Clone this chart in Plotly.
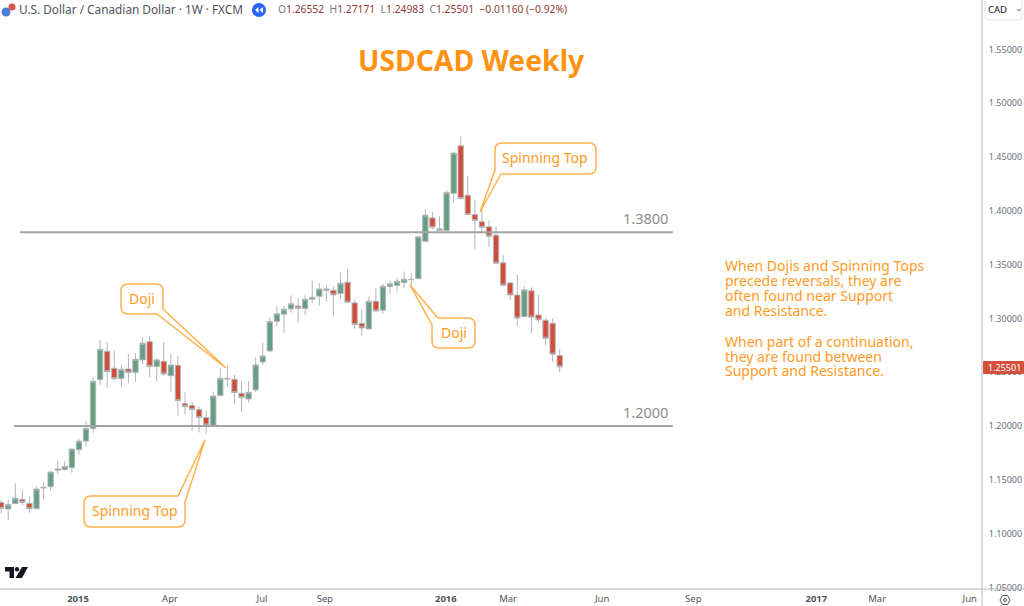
import math
import plotly.graph_objects as go

# Weekly candles (index = week number in the visible window)
opens = [1.1290,1.1228,1.1278,1.1318,1.1281,1.1231,1.1423,1.1436,1.1588,1.1594,
         1.1612,1.1780,1.1860,1.1978,1.2431,1.2694,1.2536,1.2440,1.2530,1.2499,
         1.2614,1.2784,1.2552,1.2601,1.2468,1.2564,1.2208,1.2192,1.2152,1.2078,
         1.2000,1.2282,1.2440,1.2434,1.2304,1.2251,1.2335,1.2595,1.2698,1.2973,
         1.3039,1.3088,1.3116,1.3091,1.3178,1.3206,1.3274,1.3262,1.3231,1.3336,
         1.3144,1.2955,1.2902,1.3159,1.3076,1.3296,1.3305,1.3333,1.3364,1.3370,
         1.3717,1.3934,1.3817,1.3817,1.4161,1.4604,1.4145,1.3965,1.3897,1.3851,
         1.3773,1.3516,1.3330,1.3218,1.3017,1.3256,1.3032,1.2983,1.2955,1.26552]
highs = [1.1312,1.1312,1.1467,1.1405,1.1343,1.1436,1.1479,1.1585,1.1678,1.1674,
         1.1792,1.1885,1.2050,1.2459,1.2800,1.2775,1.2701,1.2567,1.2667,1.2676,
         1.2825,1.2837,1.2629,1.2781,1.2670,1.2651,1.2313,1.2226,1.2180,1.2143,
         1.2319,1.2536,1.2561,1.2474,1.2412,1.2419,1.2639,1.2778,1.3011,1.3110,
         1.3116,1.3215,1.3187,1.3215,1.3352,1.3327,1.3311,1.3296,1.3426,1.3457,
         1.3172,1.3085,1.3203,1.3280,1.3321,1.3352,1.3380,1.3435,1.3420,1.3761,
         1.4015,1.3993,1.3947,1.4189,1.4551,1.4691,1.4325,1.4102,1.4024,1.3910,
         1.3854,1.3587,1.3333,1.3404,1.3302,1.3287,1.3218,1.3001,1.3001,1.27171]
lows = [1.1188,1.1126,1.1275,1.1265,1.1194,1.1228,1.1318,1.1399,1.1554,1.1585,
        1.1566,1.1733,1.1808,1.1938,1.2384,1.2357,1.2428,1.2366,1.2397,1.2409,
        1.2577,1.2453,1.2412,1.2465,1.2319,1.2096,1.2109,1.1953,1.1941,1.1922,
        1.2000,1.2279,1.2366,1.2205,1.2133,1.2217,1.2313,1.2567,1.2685,1.2924,
        1.2868,1.3054,1.2955,1.3029,1.3141,1.3119,1.3156,1.3017,1.3187,1.3141,
        1.2905,1.2837,1.2899,1.3057,1.3042,1.3228,1.3249,1.3280,1.3305,1.3367,
        1.3711,1.3829,1.3817,1.3814,1.4071,1.4111,1.3962,1.3643,1.3792,1.3662,
        1.3510,1.3305,1.3172,1.2930,1.3011,1.2862,1.2961,1.2753,1.2595,1.24983]
closes = [1.1234,1.1271,1.1330,1.1290,1.1231,1.1414,1.1430,1.1572,1.1600,1.1625,
          1.1786,1.1860,1.1978,1.2415,1.2713,1.2505,1.2440,1.2527,1.2496,1.2620,
          1.2769,1.2552,1.2614,1.2484,1.2567,1.2236,1.2180,1.2152,1.2078,1.2009,
          1.2279,1.2443,1.2437,1.2310,1.2264,1.2313,1.2567,1.2651,1.2970,1.3042,
          1.3085,1.3135,1.3094,1.3178,1.3197,1.3274,1.3262,1.3218,1.3327,1.3150,
          1.2942,1.2911,1.3159,1.3070,1.3299,1.3321,1.3345,1.3364,1.3361,1.3758,
          1.3959,1.3845,1.3832,1.4170,1.4536,1.4114,1.3965,1.3910,1.3845,1.3764,
          1.3513,1.3308,1.3218,1.3004,1.3265,1.3011,1.2986,1.2815,1.2667,1.25501]
weeks = list(range(len(opens)))

price_ticks = [1.05,1.10,1.15,1.20,1.25,1.30,1.35,1.40,1.45,1.50,1.55]
time_tick_pos = [10.87,23.88,36.9,45.8,62.9,71.7,85,97.9,115.3,123.9,137]
time_tick_txt = ["<b>2015</b>","Apr","Jul","Sep","<b>2016</b>","Mar","Jun","Sep","<b>2017</b>","Mar","Jun"]
levels = [1.38, 1.20]
level_txt = ["1.3800", "1.2000"]
level_start = [2.67, 1.82]
level_end = 95.0
note_lines = ["When Dojis and Spinning Tops","precede reversals, they are","often found near Support","and Resistance.","",
              "When part of a continuation,","they are found between","Support and Resistance."]
note_y = [266,281.5,296,311,0,342,357,372]

W,H = 1024,606
PW,PH = 982,589
FONT = "Noto Sans"
ORANGE = "#ff9a1f"
fx = lambda p: p/PW
fy = lambda p: 1-p/PH

def rounded(vs):
    n=len(vs); d=""
    for i,(x,y,r) in enumerate(vs):
        px,py,_=vs[i-1]; nx,ny,_=vs[(i+1)%n]
        if r==0:
            d+=("M" if i==0 else "L")+f"{fx(x)},{fy(y)} "
        else:
            l1=math.hypot(px-x,py-y); l2=math.hypot(nx-x,ny-y)
            ax,ay=x+(px-x)*r/l1,y+(py-y)*r/l1
            bx,by=x+(nx-x)*r/l2,y+(ny-y)*r/l2
            d+=("M" if i==0 else "L")+f"{fx(ax)},{fy(ay)} Q{fx(x)},{fy(y)} {fx(bx)},{fy(by)} "
    return d+"Z"

shapes=[]
def pshape(path,fill="rgba(0,0,0,0)",line=None,w=1):
    shapes.append(dict(type="path",xref="paper",yref="paper",path=path,fillcolor=fill,
                       line=dict(color=line or "rgba(0,0,0,0)",width=w),layer="above"))
def circle(cx,cy,r,fill,line=None,w=1):
    shapes.append(dict(type="circle",xref="paper",yref="paper",x0=fx(cx-r),x1=fx(cx+r),y0=fy(cy+r),y1=fy(cy-r),
                       fillcolor=fill,line=dict(color=line or "rgba(0,0,0,0)",width=w),layer="above"))
def pline(x0,y0,x1,y1,c,w=1):
    shapes.append(dict(type="line",xref="paper",yref="paper",x0=fx(x0),x1=fx(x1),y0=fy(y0),y1=fy(y1),
                       line=dict(color=c,width=w),layer="above"))

# support / resistance levels
for lv,st in zip(levels,level_start):
    shapes.append(dict(type="line",xref="x",yref="y",x0=st,x1=level_end,y0=lv,y1=lv,
                       line=dict(color="#a3a3a3",width=2),layer="above"))

# frame lines
pline(982,0,982,606,"#b4b6bc",1)
pline(0,589,1024,589,"#b4b6bc",1)

# callouts
R=7
for vs in [
    [(121,284,R),(163,284,R),(163,309,0),(226,368,0),(157,314,0),(121,314,R)],
    [(84,496,R),(178,496,0),(205,440,0),(185,502,0),(185,527,R),(84,527,R)],
    [(495,143,R),(596,143,R),(596,174,R),(501,174,0),(480,212,0),(495,170,0)],
    [(438,318,0),(475,318,R),(475,348,R),(432,348,R),(432,325,0),(410,285,0)],
]:
    pshape(rounded(vs),fill="white",line="#ffb14d",w=1.5)

# header icons
circle(6,12,4.5,"#4a7fd6")
circle(12,7,3.5,"#d9534f")
circle(259,10,7,"#2962ff")
pshape(f"M{fx(258.5)},{fy(7)} L{fx(255)},{fy(10)} L{fx(258.5)},{fy(13)} Z","white")
pshape(f"M{fx(263)},{fy(7)} L{fx(259.5)},{fy(10)} L{fx(263)},{fy(13)} Z","white")

# logo
pshape(f"M{fx(5)},{fy(567)} L{fx(14)},{fy(567)} L{fx(14)},{fy(578)} L{fx(9.5)},{fy(578)} L{fx(9.5)},{fy(571.5)} L{fx(5)},{fy(571.5)} Z","#131722")
circle(17,569.3,2.2,"#131722")
pshape(f"M{fx(22)},{fy(567)} L{fx(28)},{fy(567)} L{fx(22)},{fy(578)} L{fx(15.5)},{fy(578)} Z","#131722")

# currency box, last price, settings icon
pshape(rounded([(985,-3,4),(1022,-3,4),(1022,20,4),(985,20,4)]),fill="white",line="#e4e5e9",w=1)
pshape(rounded([(983,361,1),(1024,361,1),(1024,374,1),(983,374,1)]),fill="#d2503c")
pshape(f"M{fx(1000)},{fy(600)} L{fx(1002.5)},{fy(595.5)} L{fx(1007.5)},{fy(595.5)} L{fx(1010)},{fy(600)} L{fx(1007.5)},{fy(604.5)} L{fx(1002.5)},{fy(604.5)} Z",line="#50535e",w=1)
circle(1005,600,1.5,"rgba(0,0,0,0)","#50535e",1)

ann=[]
def text(s,x,y,size,color,anchor="left",family=FONT):
    ox = -2 if anchor=="left" else 0
    ann.append(dict(text=s,x=fx(x+ox),y=fy(y-1),xref="paper",yref="paper",xanchor=anchor,yanchor="middle",
                    showarrow=False,font=dict(size=size,color=color,family=family),align=anchor))

text("<b>USDCAD Weekly</b>",471.5,61,28.3,"#ff9212","center")
text("U.S. Dollar / Canadian Dollar · 1W · FXCM",19,10.5,11.8,"#50535e")
g='<span style="color:#787b86">%s</span>'
text("".join([g%"O","1.26552  ",g%"H","1.27171  ",g%"L","1.24983  ",g%"C","1.25501  −0.01160 (−0.92%)"]),278,10.5,10.3,"#8e3b36")
for lv,t in zip(levels,level_txt):
    text(t,645,426-(lv-1.2)*1076-13,14.5,"#8a8a8a","center")
text("Doji",142,299.5,14,ORANGE,"center")
text("Spinning Top",134.5,511.5,14,ORANGE,"center")
text("Spinning Top",545,158.5,14,ORANGE,"center")
text("Doji",453.5,333,14,ORANGE,"center")
for s,y in zip(note_lines,note_y):
    if s: text(s,725,y,14,ORANGE)
text("CAD",988,10.5,9.5,"#131722")
text("⌄",1015,8,9,"#50535e")
text("1.25501",1004,368,9,"white","center")

fig=go.Figure(go.Candlestick(
    x=weeks,open=opens,high=highs,low=lows,close=closes,
    increasing=dict(line=dict(color="#b2b5b8",width=1),fillcolor="#659e80"),
    decreasing=dict(line=dict(color="#b2b5b8",width=1),fillcolor="#d24d38"),
    whiskerwidth=0,hoverinfo="skip",showlegend=False))

fig.update_layout(
    width=W,height=H,margin=dict(l=0,r=W-PW,t=0,b=H-PH,autoexpand=False),
    paper_bgcolor="white",plot_bgcolor="white",
    boxgap=0.25,boxgroupgap=0,boxmode="overlay",shapes=shapes,annotations=ann,showlegend=False,
    font=dict(family=FONT,color="#6a6d78",size=10),
    xaxis=dict(range=[-0.163,138.73],rangeslider=dict(visible=False),showgrid=False,zeroline=False,automargin=False,
               tickmode="array",tickvals=time_tick_pos,ticktext=time_tick_txt,ticks="outside",ticklen=1,
               tickcolor="rgba(0,0,0,0)",tickfont=dict(size=9.5,color="#50535e"),showline=False),
    yaxis=dict(range=[1.0485,1.5959],side="right",showgrid=False,zeroline=False,automargin=False,tickmode="array",
               tickvals=price_ticks,ticktext=[f"{v:.5f}" for v in price_ticks],ticks="outside",ticklen=4,
               tickcolor="rgba(0,0,0,0)",tickfont=dict(size=9,color="#6a6d78"),showline=False),
)
fig.write_html("out.html",config=dict(displayModeBar=False),
               post_script="document.documentElement.style.overflow='hidden';document.documentElement.style.margin='0';document.body.style.margin='0';document.body.style.overflow='hidden';document.querySelectorAll('body > div').forEach(function(d){d.style.display='block';d.style.height='606px';d.style.overflow='hidden';});")
